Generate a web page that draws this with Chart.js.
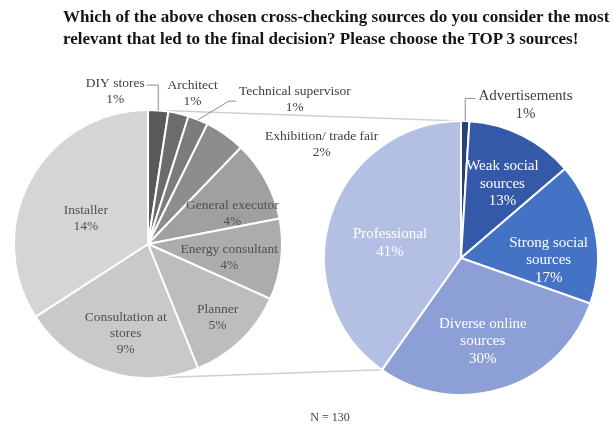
<!DOCTYPE html>
<html>
<head>
<meta charset="utf-8">
<script src="https://cdn.jsdelivr.net/npm/chart.js@4.4.1/dist/chart.umd.min.js"></script>
<style>
  html, body { margin: 0; padding: 0; background: #ffffff; }
  #wrap { position: relative; width: 614px; height: 432px; overflow: hidden; }
  #wrap canvas { position: absolute; left: 0; top: 0; }
  .title {
    position: absolute; left: 63px; top: 6px;
    font: bold 17px "Liberation Serif", "Times New Roman", serif;
    line-height: 22px; color: #141414; white-space: nowrap;
  }
  .note {
    position: absolute; left: 0; width: 660px; top: 410px; text-align: center;
    font: 12px "Liberation Serif", "Times New Roman", serif; color: #404040;
  }
</style>
</head>
<body>
<div id="wrap">
  <canvas id="sourcesPie" width="614" height="432"></canvas>
  <canvas id="professionalPie" width="614" height="432"></canvas>
  <div class="title">Which of the above chosen cross-checking sources do you consider the most<br>relevant that led to the final decision? Please choose the TOP 3 sources!</div>
  <div class="note">N = 130</div>
</div>
<script>
// Breakdown of the "Professional" share (percent of respondents)
const professionalCategories = [
  'DIY stores', 'Architect', 'Technical supervisor', 'Exhibition/ trade fair',
  'General executor', 'Energy consultant', 'Planner', ['Consultation at', 'stores'], 'Installer'
];
const professionalValues = [1, 1, 1, 2, 4, 4, 5, 9, 14];

// Main source groups (percent of respondents)
const sourceCategories = [
  'Advertisements', ['Weak social', 'sources'], ['Strong social', 'sources'],
  ['Diverse online', 'sources'], 'Professional'
];
const sourceValues = [1, 13, 17, 30, 41];

const N_RESPONDENTS = 130;

const greyShades = ['#595959', '#6c6c6c', '#7c7c7c', '#8d8d8d', '#a0a0a0', '#acacac', '#bdbdbd', '#c9c9c9', '#d5d5d5'];
const blueShades = ['#23427a', '#3459a8', '#4472c4', '#8c9fd6', '#b4c0e3'];

// Label placement: inside labels sit on the slice bisector (fraction of radius, angle nudge in degrees);
// outside labels are offset from the pie centre in radius units, optionally with a leader line.
const professionalLabelPlacement = [
  { out: [-0.244, -1.141], leader: { side: 'right', row: 'first', kind: 'elbow' } },
  { out: [0.333, -1.126] },
  { out: [1.096, -1.081], leader: { side: 'left', row: 'mid', kind: 'diag' } },
  { out: [1.296, -0.741] },
  { r: 0.67, nudge: 8.5 },
  { r: 0.615, nudge: 3 },
  { r: 0.755, nudge: 0.5 },
  { r: 0.69, nudge: -3.6 },
  { r: 0.50, nudge: -6.5 }
];
const sourceLabelPlacement = [
  { out: [0.471, -1.116], leader: { side: 'left', row: 'first', kind: 'elbow' } },
  { r: 0.62, nudge: 2.7 },
  { r: 0.64, nudge: 12 },
  { r: 0.63, nudge: 3 },
  { r: 0.53, nudge: -5.6 }
];

const SERIF = '"Liberation Serif", "Times New Roman", serif';

// Draws category name + percentage for every slice, with optional leader lines
const sliceTextPlugin = {
  id: 'sliceText',
  afterDatasetsDraw(chart, args, opts) {
    const ctx = chart.ctx;
    const meta = chart.getDatasetMeta(0);
    const values = chart.data.datasets[0].data;
    ctx.save();
    ctx.font = `${opts.size}px ${SERIF}`;
    ctx.textAlign = 'center';
    ctx.textBaseline = 'middle';
    meta.data.forEach((arc, i) => {
      const place = opts.placement[i];
      const cat = chart.data.labels[i];
      const lines = (Array.isArray(cat) ? cat.slice() : [cat]);
      lines.push(values[i] + '%');
      const r = arc.outerRadius;
      let cx, cy;
      if (place.out) {
        cx = arc.x + place.out[0] * r;
        cy = arc.y + place.out[1] * r;
      } else {
        const mid = (arc.startAngle + arc.endAngle) / 2 + place.nudge * Math.PI / 180;
        cx = arc.x + Math.cos(mid) * r * place.r;
        cy = arc.y + Math.sin(mid) * r * place.r;
      }
      const lh = opts.lineHeight;
      const top = cy - (lines.length - 1) * lh / 2;
      ctx.fillStyle = place.out ? opts.outColor : opts.colors[i];
      lines.forEach((t, k) => ctx.fillText(t, cx, top + k * lh));

      if (place.leader) {
        const mid = (arc.startAngle + arc.endAngle) / 2;
        const ex = arc.x + Math.cos(mid) * r;
        const ey = arc.y + Math.sin(mid) * r;
        const w = ctx.measureText(lines[0]).width;
        const sx = place.leader.side === 'right' ? cx + w / 2 + 2 : cx - w / 2 - 3;
        const sy = place.leader.row === 'first' ? top + 2 : cy + 2;
        ctx.strokeStyle = '#8c8c8c';
        ctx.lineWidth = 1;
        ctx.beginPath();
        ctx.moveTo(sx, sy);
        if (place.leader.kind === 'elbow') {
          ctx.lineTo(ex, sy);
        } else {
          ctx.lineTo(sx - 7, sy);
        }
        ctx.lineTo(ex, ey);
        ctx.stroke();
      }
    });
    ctx.restore();
  }
};

let professionalChart = null;

// Connector lines from the "Professional" slice to the top and bottom of the breakdown pie
const connectorPlugin = {
  id: 'pieConnector',
  beforeDatasetsDraw(chart) {
    if (!professionalChart) return;
    const detail = professionalChart.getDatasetMeta(0).data[0];
    const meta = chart.getDatasetMeta(0);
    const prof = meta.data[meta.data.length - 1];
    const ctx = chart.ctx;
    const pr = prof.outerRadius;
    const topP = { x: prof.x + Math.cos(prof.endAngle) * pr, y: prof.y + Math.sin(prof.endAngle) * pr };
    const botP = { x: prof.x + Math.cos(prof.startAngle) * pr, y: prof.y + Math.sin(prof.startAngle) * pr };
    ctx.save();
    ctx.strokeStyle = '#d0d0d0';
    ctx.lineWidth = 1.5;
    ctx.beginPath();
    ctx.moveTo(detail.x, detail.y - detail.outerRadius);
    ctx.lineTo(topP.x, topP.y);
    ctx.moveTo(detail.x, detail.y + detail.outerRadius);
    ctx.lineTo(botP.x, botP.y);
    ctx.stroke();
    ctx.restore();
  }
};

const commonOptions = {
  responsive: false,
  animation: false,
  devicePixelRatio: 1,
  events: []
};

professionalChart = new Chart(document.getElementById('professionalPie'), {
  type: 'pie',
  data: {
    labels: professionalCategories,
    datasets: [{ data: professionalValues, backgroundColor: greyShades, borderColor: '#ffffff', borderWidth: 2 }]
  },
  options: Object.assign({}, commonOptions, {
    layout: { padding: { left: 13, right: 331, top: 109, bottom: 53 } },
    plugins: {
      legend: { display: false },
      tooltip: { enabled: false },
      sliceText: {
        size: 13.5, lineHeight: 16,
        placement: professionalLabelPlacement,
        colors: professionalCategories.map(() => '#505050'),
        outColor: '#404040'
      }
    }
  }),
  plugins: [sliceTextPlugin]
});

new Chart(document.getElementById('sourcesPie'), {
  type: 'pie',
  data: {
    labels: sourceCategories,
    datasets: [{ data: sourceValues, backgroundColor: blueShades, borderColor: '#ffffff', borderWidth: 2 }]
  },
  options: Object.assign({}, commonOptions, {
    layout: { padding: { left: 323, right: 15, top: 120, bottom: 36 } },
    plugins: {
      legend: { display: false },
      tooltip: { enabled: false },
      sliceText: {
        size: 15, lineHeight: 17.5,
        placement: sourceLabelPlacement,
        colors: sourceCategories.map(() => '#ffffff'),
        outColor: '#404040'
      }
    }
  }),
  plugins: [connectorPlugin, sliceTextPlugin]
});

document.querySelector('.note').textContent = 'N = ' + N_RESPONDENTS;
</script>
</body>
</html>
